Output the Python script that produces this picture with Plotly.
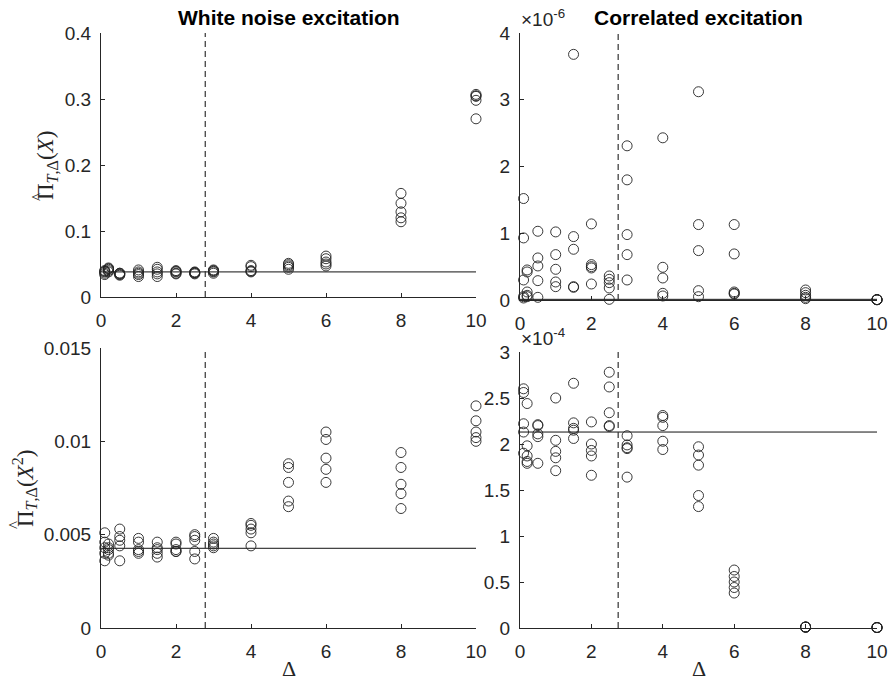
import plotly.graph_objects as go

# ---------------- data ----------------
delta = [0.1, 0.2, 0.5, 1, 1.5, 2, 2.5, 3, 4, 5, 6, 8, 10]

# White noise, Pi(X)
wn_x = [
    [0.034, 0.036, 0.038, 0.039, 0.040],
    [0.038, 0.040, 0.042, 0.043, 0.044],
    [0.033, 0.034, 0.035, 0.036, 0.036],
    [0.031, 0.034, 0.036, 0.038, 0.041],
    [0.031, 0.035, 0.038, 0.042, 0.045],
    [0.035, 0.036, 0.038, 0.039, 0.040],
    [0.035, 0.036, 0.037, 0.037, 0.038],
    [0.036, 0.038, 0.039, 0.040, 0.041],
    [0.038, 0.039, 0.040, 0.046, 0.048],
    [0.042, 0.045, 0.047, 0.049, 0.051],
    [0.047, 0.050, 0.053, 0.058, 0.062],
    [0.114, 0.120, 0.129, 0.142, 0.157],
    [0.270, 0.298, 0.304, 0.305, 0.307],
]
wn_x_ref = 0.038

# Correlated, Pi(X)  (values x 1e-6)
co_x_e6 = [
    [1.52, 0.93, 0.30, 0.05, 0.03],
    [0.45, 0.42, 0.12, 0.07, 0.05],
    [1.03, 0.63, 0.51, 0.29, 0.04],
    [1.02, 0.68, 0.46, 0.27, 0.20],
    [3.68, 0.95, 0.76, 0.20, 0.19],
    [1.14, 0.53, 0.50, 0.48, 0.24],
    [0.36, 0.31, 0.26, 0.18, 0.01],
    [2.31, 1.80, 0.98, 0.68, 0.30],
    [2.43, 0.49, 0.33, 0.10, 0.06],
    [3.12, 1.13, 0.74, 0.14, 0.05],
    [1.13, 0.69, 0.12, 0.10, 0.09],
    [0.15, 0.11, 0.07, 0.04, 0.02],
    [0.005, 0.005, 0.005, 0.005, 0.005],
]
co_x_ref_e6 = 0.01

# White noise, Pi(X^2)
wn_x2 = [
    [0.0051, 0.0046, 0.0043, 0.0040, 0.0036],
    [0.0045, 0.0043, 0.0042, 0.0040, 0.0039],
    [0.0053, 0.0049, 0.0047, 0.0044, 0.0036],
    [0.0048, 0.0046, 0.0042, 0.0041, 0.0040],
    [0.0046, 0.0043, 0.0042, 0.0040, 0.0038],
    [0.0046, 0.0045, 0.0042, 0.0041, 0.0041],
    [0.0050, 0.0049, 0.0047, 0.0041, 0.0037],
    [0.0048, 0.0046, 0.0045, 0.0044, 0.0043],
    [0.0056, 0.0055, 0.0053, 0.0051, 0.0044],
    [0.0088, 0.0086, 0.0078, 0.0068, 0.0065],
    [0.0105, 0.0101, 0.0091, 0.0085, 0.0078],
    [0.0094, 0.0086, 0.0077, 0.0072, 0.0064],
    [0.0119, 0.0111, 0.0105, 0.0102, 0.0100],
]
wn_x2_ref = 0.00427

# Correlated, Pi(X^2)  (values x 1e-4)
co_x2_e4 = [
    [2.60, 2.56, 2.22, 2.13, 1.90],
    [2.44, 1.98, 1.87, 1.81, 1.79],
    [2.21, 2.20, 2.11, 2.08, 1.79],
    [2.50, 2.04, 1.92, 1.85, 1.71],
    [2.66, 2.23, 2.17, 2.15, 2.06],
    [2.24, 2.00, 1.93, 1.87, 1.66],
    [2.78, 2.62, 2.34, 2.20, 2.19],
    [2.09, 1.99, 1.96, 1.95, 1.64],
    [2.31, 2.29, 2.20, 2.03, 1.94],
    [1.97, 1.88, 1.77, 1.44, 1.32],
    [0.63, 0.56, 0.50, 0.44, 0.38],
    [0.01, 0.01, 0.01, 0.01, 0.01],
    [0.005, 0.005, 0.005, 0.005, 0.005],
]
co_x2_ref_e4 = 2.13

delta_c_left = 2.78
delta_c_right = 2.75

x_ticks = [0, 2, 4, 6, 8, 10]
titles = ["White noise excitation", "Correlated excitation"]

# ---------------- figure ----------------
W, H = 891, 681
fig = go.Figure()

AX = "#262626"
MK = "#222222"


def flat(groups, scale=1.0):
    xs, ys = [], []
    for d, vals in zip(delta, groups):
        for v in vals:
            xs.append(d)
            ys.append(v * scale)
    return xs, ys


panels = [
    (wn_x, 1.0, wn_x_ref, delta_c_left, 0.4,
     [0, 0.1, 0.2, 0.3, 0.4], ["0", "0.1", "0.2", "0.3", "0.4"],
     (101, 476), (33, 297)),
    (co_x_e6, 1e-6, co_x_ref_e6 * 1e-6, delta_c_right, 4e-6,
     [0, 1e-6, 2e-6, 3e-6, 4e-6], ["0", "1", "2", "3", "4"],
     (520, 877), (33, 300)),
    (wn_x2, 1.0, wn_x2_ref, delta_c_left, 0.015,
     [0, 0.005, 0.01, 0.015], ["0", "0.005", "0.01", "0.015"],
     (101, 476), (348, 628)),
    (co_x2_e4, 1e-4, co_x2_ref_e4 * 1e-4, delta_c_right, 3e-4,
     [0, 0.5e-4, 1e-4, 1.5e-4, 2e-4, 2.5e-4, 3e-4],
     ["0", "0.5", "1", "1.5", "2", "2.5", "3"],
     (520, 877), (352, 628)),
]

tickfont = dict(family="Liberation Sans, Arial, sans-serif", size=19, color=AX)

for i, (data, scale, ref, vline, ymax, tv, tt, xd, yd) in enumerate(panels):
    n = i + 1
    xr = "x" if n == 1 else f"x{n}"
    yr = "y" if n == 1 else f"y{n}"
    xs, ys = flat(data, scale)
    fig.add_trace(go.Scatter(
        x=[0, 10], y=[ref, ref], mode="lines",
        line=dict(color="#111111", width=1), xaxis=xr, yaxis=yr,
        showlegend=False, hoverinfo="skip"))
    fig.add_trace(go.Scatter(
        x=[vline, vline], y=[0, ymax], mode="lines",
        line=dict(color="#333333", width=1.2, dash="6px,4px"), xaxis=xr, yaxis=yr,
        showlegend=False, hoverinfo="skip", cliponaxis=False))
    fig.add_trace(go.Scatter(
        x=xs, y=ys, mode="markers",
        marker=dict(symbol="circle-open", size=10, color=MK, line=dict(width=0.9, color=MK)),
        xaxis=xr, yaxis=yr, showlegend=False, cliponaxis=False))

    xkey = "xaxis" if n == 1 else f"xaxis{n}"
    ykey = "yaxis" if n == 1 else f"yaxis{n}"
    fig.layout[xkey] = dict(
        domain=[xd[0] / W, xd[1] / W], range=[0, 10], anchor=yr,
        tickvals=x_ticks, ticktext=[str(t) for t in x_ticks],
        ticks="inside", ticklen=4, tickcolor=AX, tickwidth=1,
        showline=True, linecolor=AX, linewidth=1, showgrid=False, zeroline=False,
        tickfont=tickfont, ticklabelstandoff=6, automargin=False, fixedrange=True)
    fig.layout[ykey] = dict(
        domain=[1 - yd[1] / H, 1 - yd[0] / H], range=[0, ymax], anchor=xr,
        tickvals=tv, ticktext=tt,
        ticks="inside", ticklen=4, tickcolor=AX, tickwidth=1,
        showline=True, linecolor=AX, linewidth=1, showgrid=False, zeroline=False,
        tickfont=tickfont, ticklabelstandoff=5, automargin=False, fixedrange=True)

ann = []
for t, cx in zip(titles, [288.5, 698.5]):
    ann.append(dict(text="<b>" + t + "</b>", x=cx / W, y=1 - 18 / H, xref="paper", yref="paper",
                    xanchor="center", yanchor="middle", showarrow=False,
                    font=dict(family="Liberation Sans, Arial, sans-serif", size=21, color="black")))
serif = dict(family="Liberation Serif, serif", size=23, color=AX)
# (text, label centre x, label centre y, hat x, hat y)
ylabels = [("Π<sub><i>T</i>,Δ</sub>(<i>X</i>)", 47, 166, 37, 197),
           ("Π<sub><i>T</i>,Δ</sub>(<i>X</i><sup>2</sup>)", 24, 489, 14, 525)]
for txt, cx, cy, hx, hy in ylabels:
    ann.append(dict(text=txt, x=cx / W, y=1 - cy / H,
                    xref="paper", yref="paper", xanchor="center", yanchor="middle",
                    textangle=-90, showarrow=False, font=serif))
    ann.append(dict(text="^", x=hx / W, y=1 - hy / H,
                    xref="paper", yref="paper", xanchor="center", yanchor="middle",
                    textangle=-90, showarrow=False,
                    font=dict(family="Liberation Serif, serif", size=17, color=AX)))
for cx in [288.5, 698.5]:
    ann.append(dict(text="Δ", x=cx / W, y=1 - 668 / H, xref="paper", yref="paper",
                    xanchor="center", yanchor="middle", showarrow=False,
                    font=dict(family="Liberation Serif, serif", size=22, color=AX)))
for yy, ex in [(32, "-6"), (351, "-4")]:
    ann.append(dict(text="×10<sup>" + ex + "</sup>", x=519 / W, y=1 - yy / H,
                    xref="paper", yref="paper", xanchor="left", yanchor="bottom",
                    showarrow=False, font=tickfont))

fig.update_layout(
    width=W, height=H, margin=dict(l=0, r=0, t=0, b=0, autoexpand=False),
    paper_bgcolor="white", plot_bgcolor="white",
    annotations=ann, showlegend=False)

fig.write_html("out.html", config={"displayModeBar": False},
               post_script="document.body.style.margin='0';document.body.style.overflow='hidden';")
